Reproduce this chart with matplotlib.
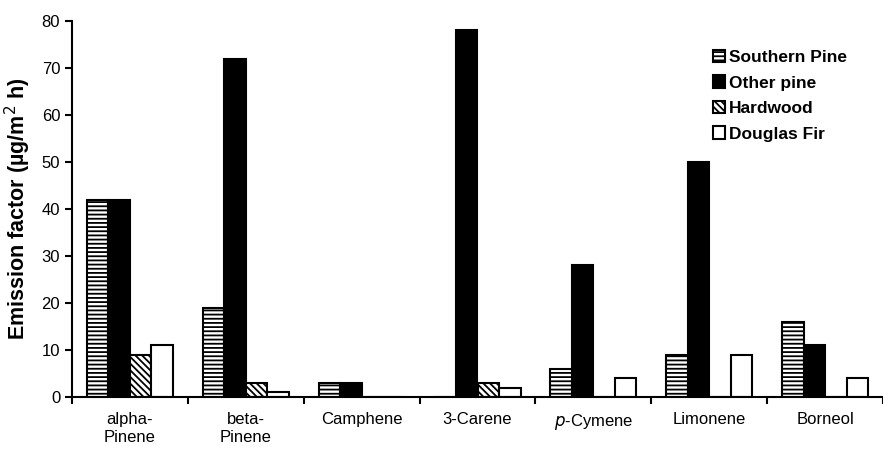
import matplotlib
matplotlib.use("Agg")
import matplotlib.pyplot as plt
import numpy as np

plt.rcParams['font.family'] = ['Liberation Sans', 'DejaVu Sans']
plt.rcParams['hatch.linewidth'] = 1.3

categories = ["alpha-\nPinene", "beta-\nPinene", "Camphene", "3-Carene", "$p$-Cymene", "Limonene", "Borneol"]
series_names = ["Southern Pine", "Other pine", "Hardwood", "Douglas Fir"]
southern_pine = [42, 19, 3, 0, 6, 9, 16]
other_pine = [42, 72, 3, 78, 28, 50, 11]
hardwood = [9, 3, 0, 3, 0, 0, 0]
douglas_fir = [11, 1, 0, 2, 4, 9, 4]
yticks = [0, 10, 20, 30, 40, 50, 60, 70, 80]

fig = plt.figure(figsize=(8.83, 4.49), dpi=100)
ax = fig.add_axes([72/883, 1-397/449, 1-72/883, (397-21)/449])

x = np.arange(len(categories))
w = 0.186
styles = [
    dict(facecolor='white', edgecolor='black', hatch='----'),
    dict(facecolor='black', edgecolor='black'),
    dict(facecolor='white', edgecolor='black', hatch='\\\\\\\\\\'),
    dict(facecolor='white', edgecolor='black'),
]
data = [southern_pine, other_pine, hardwood, douglas_fir]
for i, (vals, name, st) in enumerate(zip(data, series_names, styles)):
    ax.bar(x + (i - 1.5) * w, vals, width=w, linewidth=1.5, label=name, **st)

ax.set_xlim(-0.5, len(categories) - 0.5)
ax.set_ylim(0, 80)
ax.set_yticks(yticks)
ax.set_yticklabels([str(t) for t in yticks], fontsize=12)
ax.set_xticks(x)
ax.set_xticklabels(categories, fontsize=12, va='top')
ax.tick_params(axis='x', which='major', length=0, pad=11)
ax.set_xticks(np.arange(len(categories) + 1) - 0.5, minor=True)
ax.tick_params(axis='x', which='minor', direction='out', length=5, width=1.5)
ax.tick_params(axis='y', direction='out', length=5, width=1.5)
for s in ['top', 'right']:
    ax.spines[s].set_visible(False)
for s in ['left', 'bottom']:
    ax.spines[s].set_linewidth(1.5)

ax.set_ylabel("Emission factor (µg/m$^2$ h)", fontsize=15.5, fontweight='bold', labelpad=6)

leg = ax.legend(loc='upper right', bbox_to_anchor=(0.975, 0.965), frameon=False,
                prop={'weight': 'bold', 'size': 12.5}, handlelength=0.7, handleheight=0.7,
                handletextpad=0.25, labelspacing=0.6)

fig.savefig("out.png", dpi=100)
